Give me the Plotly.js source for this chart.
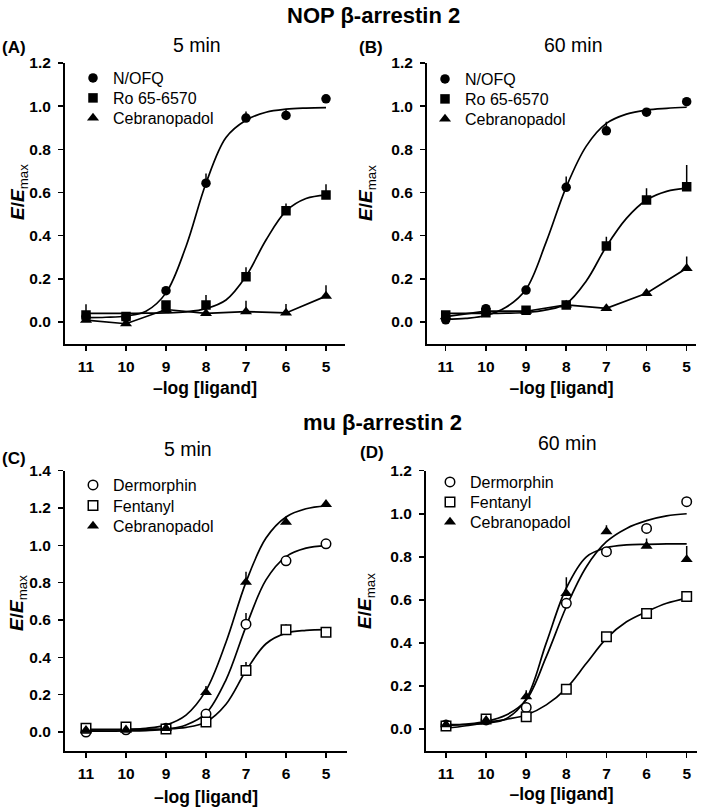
<!DOCTYPE html>
<html>
<head>
<meta charset="utf-8">
<script src="https://cdn.plot.ly/plotly-3.0.1.min.js"></script>
<style>html,body{margin:0;padding:0;background:#fff;}#chart{width:709px;height:807px;}</style>
</head>
<body>
<div id="chart"></div>
<script>
// ---- data ----
const doses = [11, 10, 9, 8, 7, 6, 5];
const doseLabels = ['11', '10', '9', '8', '7', '6', '5'];
const fitX = [11, 10.5, 10, 9.5, 9, 8.5, 8, 7.5, 7, 6.5, 6, 5.5, 5];

// (A) NOP beta-arrestin 2, 5 min
const nopA_nofq = [0.025, 0.02, 0.145, 0.643, 0.945, 0.957, 1.034];
const nopA_nofq_err = [0, 0, 0, 0.045, 0.03, 0.03, 0];
const nopA_ro = [0.032, 0.025, 0.079, 0.079, 0.21, 0.516, 0.588];
const nopA_ro_err = [0.05, 0.02, 0, 0.046, 0.044, 0.033, 0.05];
const nopA_ceb = [0.009, -0.008, 0.058, 0.04, 0.048, 0.042, 0.12];
const nopA_ceb_err = [0, 0, 0, 0, 0.05, 0.042, 0.05];
const nopA_nofq_fit = [0.02, 0.022, 0.028, 0.05, 0.135, 0.35, 0.643, 0.855, 0.935, 0.972, 0.986, 0.991, 0.993];
const nopA_ro_fit = [0.04, 0.04, 0.04, 0.041, 0.042, 0.047, 0.062, 0.102, 0.212, 0.38, 0.514, 0.572, 0.588];

// (B) NOP beta-arrestin 2, 60 min
const nopB_nofq = [0.01, 0.062, 0.148, 0.624, 0.886, 0.972, 1.021];
const nopB_nofq_err = [0.02, 0.02, 0, 0.05, 0.042, 0.02, 0];
const nopB_ro = [0.032, 0.043, 0.055, 0.079, 0.352, 0.565, 0.627];
const nopB_ro_err = [0.01, 0, 0, 0, 0.043, 0.055, 0.10];
const nopB_ceb = [0.025, 0.05, 0.05, 0.079, 0.063, 0.133, 0.249];
const nopB_ceb_err = [0, 0, 0, 0, 0, 0.01, 0.054];
const nopB_nofq_fit = [0.012, 0.017, 0.03, 0.068, 0.152, 0.37, 0.625, 0.815, 0.92, 0.963, 0.982, 0.99, 0.995];
const nopB_ro_fit = [0.04, 0.04, 0.04, 0.041, 0.044, 0.056, 0.085, 0.19, 0.35, 0.48, 0.565, 0.605, 0.62];

// (C) mu beta-arrestin 2, 5 min
const muC_derm = [0.0, 0.012, 0.02, 0.096, 0.578, 0.917, 1.008];
const muC_derm_err = [0, 0, 0, 0, 0.06, 0, 0];
const muC_fent = [0.02, 0.027, 0.016, 0.054, 0.33, 0.548, 0.535];
const muC_fent_err = [0, 0, 0, 0, 0.045, 0.03, 0];
const muC_ceb = [0.01, 0.012, 0.02, 0.212, 0.803, 1.124, 1.22];
const muC_ceb_err = [0, 0, 0, 0.035, 0.055, 0.03, 0];
const muC_derm_fit = [0.005, 0.005, 0.006, 0.008, 0.015, 0.038, 0.1, 0.28, 0.565, 0.815, 0.94, 0.985, 0.999];
const muC_fent_fit = [0.015, 0.015, 0.015, 0.016, 0.017, 0.025, 0.054, 0.149, 0.328, 0.473, 0.53, 0.545, 0.549];
const muC_ceb_fit = [0.01, 0.011, 0.013, 0.02, 0.038, 0.091, 0.223, 0.481, 0.803, 1.039, 1.152, 1.196, 1.212];

// (D) mu beta-arrestin 2, 60 min
const muD_derm = [0.019, 0.042, 0.10, 0.584, 0.824, 0.932, 1.056];
const muD_derm_err = [0, 0, 0, 0, 0, 0, 0];
const muD_fent = [0.014, 0.046, 0.057, 0.184, 0.429, 0.537, 0.615];
const muD_fent_err = [0, 0, 0, 0, 0, 0, 0];
const muD_ceb = [0.02, 0.04, 0.15, 0.63, 0.917, 0.85, 0.788];
const muD_ceb_err = [0, 0, 0.03, 0.075, 0.03, 0.035, 0.062];
const muD_derm_fit = [0.015, 0.022, 0.035, 0.065, 0.135, 0.336, 0.568, 0.754, 0.87, 0.932, 0.968, 0.99, 1.0];
const muD_fent_fit = [0.003, 0.015, 0.03, 0.045, 0.065, 0.112, 0.189, 0.305, 0.421, 0.498, 0.545, 0.584, 0.607];
const muD_ceb_fit = [0.02, 0.021, 0.027, 0.048, 0.14, 0.40, 0.655, 0.80, 0.842, 0.855, 0.858, 0.86, 0.86];

// ---- layout helpers ----
const W = 709, H = 807;
const FONT = 'Liberation Sans, Arial, Helvetica, sans-serif';
const px = v => v / W;
const py = v => 1 - v / H;
const zeros = doses.map(() => 0);

const traces = [];
let legendCount = 0;
const legends = {};

function curve(xa, ya, y, shape) {
  traces.push({x: shape === 'linear' ? doses : fitX, y: y, xaxis: xa, yaxis: ya, type: 'scatter', mode: 'lines',
    line: {color: '#000', width: 1.7, shape: shape, smoothing: 1}, showlegend: false, hoverinfo: 'skip'});
}
function pts(xa, ya, name, y, err, symbol, open, lx, ly) {
  legendCount += 1;
  const lid = legendCount === 1 ? 'legend' : 'legend' + legendCount;
  traces.push({x: doses, y: y, xaxis: xa, yaxis: ya, type: 'scatter', mode: 'markers', name: name,
    legend: lid,
    marker: {symbol: symbol, size: symbol === 'triangle-up' ? 10.5 : 9.5, color: open ? '#fff' : '#000',
      line: {color: '#000', width: open ? 1.5 : 0}},
    error_y: {type: 'data', symmetric: false, array: err, arrayminus: zeros, width: 0, thickness: 1.5, color: '#000'}});
  legends[lid] = {x: px(lx - 20), y: py(ly), xanchor: 'left', yanchor: 'middle', bgcolor: 'rgba(0,0,0,0)',
    font: {family: FONT, size: 16, color: '#000'}, itemclick: false, itemdoubleclick: false};
}

// Panel A
curve('x', 'y', nopA_nofq_fit, 'spline');
curve('x', 'y', nopA_ro_fit, 'spline');
curve('x', 'y', nopA_ceb, 'linear');
pts('x', 'y', 'N/OFQ', nopA_nofq, nopA_nofq_err, 'circle', false, 93, 78);
pts('x', 'y', 'Ro 65-6570', nopA_ro, nopA_ro_err, 'square', false, 93, 98);
pts('x', 'y', 'Cebranopadol', nopA_ceb, nopA_ceb_err, 'triangle-up', false, 93, 118);
// Panel B
curve('x2', 'y2', nopB_nofq_fit, 'spline');
curve('x2', 'y2', nopB_ro_fit, 'spline');
curve('x2', 'y2', nopB_ceb, 'linear');
pts('x2', 'y2', 'N/OFQ', nopB_nofq, nopB_nofq_err, 'circle', false, 445, 79);
pts('x2', 'y2', 'Ro 65-6570', nopB_ro, nopB_ro_err, 'square', false, 445, 99);
pts('x2', 'y2', 'Cebranopadol', nopB_ceb, nopB_ceb_err, 'triangle-up', false, 445, 119);
// Panel C
curve('x3', 'y3', muC_derm_fit, 'spline');
curve('x3', 'y3', muC_fent_fit, 'spline');
curve('x3', 'y3', muC_ceb_fit, 'spline');
pts('x3', 'y3', 'Dermorphin', muC_derm, muC_derm_err, 'circle', true, 93, 485);
pts('x3', 'y3', 'Fentanyl', muC_fent, muC_fent_err, 'square', true, 93, 505.5);
pts('x3', 'y3', 'Cebranopadol', muC_ceb, muC_ceb_err, 'triangle-up', false, 93, 526);
// Panel D
curve('x4', 'y4', muD_derm_fit, 'spline');
curve('x4', 'y4', muD_fent_fit, 'spline');
curve('x4', 'y4', muD_ceb_fit, 'spline');
pts('x4', 'y4', 'Dermorphin', muD_derm, muD_derm_err, 'circle', true, 450, 482);
pts('x4', 'y4', 'Fentanyl', muD_fent, muD_fent_err, 'square', true, 450, 502);
pts('x4', 'y4', 'Cebranopadol', muD_ceb, muD_ceb_err, 'triangle-up', false, 450, 522);

function xax(x0, x1, range, anchor, standoff) {
  return {domain: [px(x0), px(x1)], range: range, anchor: anchor, tickmode: 'array', tickvals: doses, ticktext: doseLabels,
    ticks: 'outside', ticklen: 5, tickwidth: 1.5, tickcolor: '#000', showline: true, linewidth: 2, linecolor: '#000',
    showgrid: false, zeroline: false, ticklabelstandoff: 3,
    tickfont: {family: FONT, size: 15.5, color: '#000', weight: 'bold'},
    title: {text: '–log [ligand]', standoff: standoff, font: {family: FONT, size: 17.5, color: '#000', weight: 'bold'}}};
}
function yax(y0, y1, range, anchor) {
  return {domain: [py(y0), py(y1)], range: range, anchor: anchor, tick0: 0, dtick: 0.2, tickformat: '.1f',
    ticks: 'outside', ticklen: 5, tickwidth: 1.5, tickcolor: '#000', showline: true, linewidth: 2, linecolor: '#000',
    showgrid: false, zeroline: false, ticklabelstandoff: 4,
    tickfont: {family: FONT, size: 15.5, color: '#000', weight: 'bold'}};
}

function ann(text, x, y, size, bold, xanchor, angle) {
  return {text: text, x: px(x), y: py(y), xref: 'paper', yref: 'paper', showarrow: false,
    xanchor: xanchor || 'center', yanchor: 'middle', textangle: angle || 0,
    font: {family: FONT, size: size, color: '#000', weight: bold ? 'bold' : 'normal'}};
}
const yTitle = '<b><i>E</i>/<i>E</i></b><sub>max</sub>';

const layout = Object.assign({
  width: W, height: H, margin: {l: 0, r: 0, t: 0, b: 0}, paper_bgcolor: '#fff', plot_bgcolor: '#fff',
  font: {family: FONT, color: '#000'}, showlegend: true, hovermode: false,
  xaxis: xax(65, 345, [11.525, 4.525], 'y', 8),
  yaxis: yax(343.6, 63, [-0.1, 1.2], 'x'),
  xaxis2: xax(427, 696, [11.466, 4.768], 'y2', 8),
  yaxis2: yax(343.6, 63, [-0.1, 1.2], 'x2'),
  xaxis3: xax(65, 347, [11.525, 4.475], 'y3', 10),
  yaxis3: yax(750.7, 470.7, [-0.1, 1.4], 'x3'),
  xaxis4: xax(426, 697, [11.4985, 4.743], 'y4', 7),
  yaxis4: yax(750.5, 470.7, [-0.1, 1.2], 'x4'),
  annotations: [
    ann('NOP β-arrestin 2', 374, 16, 22, true),
    ann('mu β-arrestin 2', 382, 422, 22, true),
    ann('5 min', 197, 45, 19.5, false),
    ann('60 min', 573, 45, 19.5, false),
    ann('5 min', 188, 449, 19.5, false),
    ann('60 min', 567, 443, 19.5, false),
    ann('(A)', 0, 47, 17, true, 'left'),
    ann('(B)', 357, 48, 17, true, 'left'),
    ann('(C)', 0, 458, 17, true, 'left'),
    ann('(D)', 358, 452, 17, true, 'left'),
    ann(yTitle, 19, 192, 19, false, 'center', -90),
    ann(yTitle, 367, 193, 19, false, 'center', -90),
    ann(yTitle, 18, 603, 19, false, 'center', -90),
    ann(yTitle, 366, 601, 19, false, 'center', -90)
  ]
}, legends);

Plotly.newPlot('chart', traces, layout, {displayModeBar: false, staticPlot: true});
</script>
</body>
</html>
